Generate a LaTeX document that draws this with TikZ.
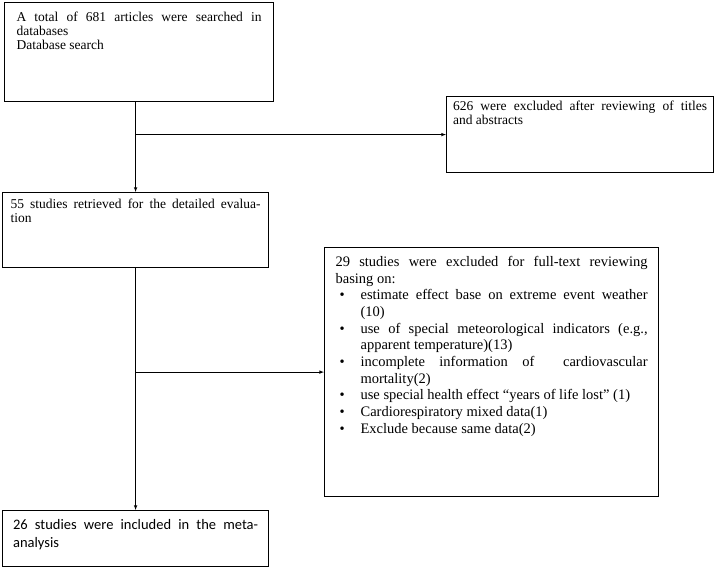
\documentclass[tikz,border=0pt]{standalone}
\usepackage{fontspec}
\setmainfont{Liberation Serif}
\newfontfamily\calibri{Carlito}
\usepackage{enumitem}
\tikzset{>=latex}
\tikzset{
  panel/.style={draw, line width=1.2pt, anchor=north west, align=justify, inner ysep=0pt},
  link/.style={->, line width=0.6pt},
}
\newcommand{\smalltext}{\fontsize{13.5}{14}\selectfont\hyphenpenalty=10000}
\newcommand{\bigtext}{\fontsize{14.5}{16.7}\selectfont\hyphenpenalty=10000}

\begin{document}
\begin{tikzpicture}[x=1pt, y=-1pt]
  \useasboundingbox (0,0) rectangle (714,567);
  % boxes
  \node[panel, font=\smalltext, inner xsep=12pt, text width=245pt, text height=18.7pt, text depth=80.3pt]
    (search) at (4,2) {A total of 681 articles were searched in\linebreak databases\\Database search};
  \node[panel, font=\smalltext, inner xsep=6.5pt, text width=254pt, text height=14pt, text depth=62pt]
    (titles) at (446,96) {626 were excluded after reviewing of titles\linebreak and abstracts};
  \node[panel, font=\smalltext, inner xsep=8pt, text width=250pt, text height=16pt, text depth=59pt]
    (retrieved) at (2,192) {55\ studies retrieved for the detailed evalua-\linebreak tion};
  \node[panel, font=\bigtext, inner xsep=11pt, text width=312pt, text height=18.7pt, text depth=230.3pt]
    (fulltext) at (324,247) {29 studies were excluded for full-text reviewing\linebreak basing on:
    \begin{itemize}[label=\textbullet, leftmargin=25pt, labelsep=16pt, itemsep=0pt, topsep=0pt, parsep=0pt, partopsep=0pt]
      \item estimate effect base on extreme event weather\linebreak (10)
      \item use of special meteorological indicators (e.g.,\linebreak apparent temperature)(13)
      \item incomplete information of\ \ cardiovascular\linebreak mortality(2)
      \item use special health effect “years of life lost” (1)
      \item Cardiorespiratory mixed data(1)
      \item Exclude because same data(2)
    \end{itemize}};
  \node[panel, font=\calibri\fontsize{14.5}{18}\selectfont, inner xsep=10.5pt, text width=245pt, text height=19pt, text depth=37pt]
    (included) at (2,510) {26 studies were included in the meta-\linebreak analysis};
  % 1
  \coordinate (split1) at (retrieved.north |- titles.west);
  \draw[link] (retrieved.north |- search.south) -- (retrieved.north);
  \draw[link] (split1) -- (titles.west);
  % 2
  \coordinate (split2) at (included.north |- fulltext.west);
  \draw[link] (included.north |- retrieved.south) -- (included.north);
  \draw[link] (split2) -- (fulltext.west);
\end{tikzpicture}
\end{document}
